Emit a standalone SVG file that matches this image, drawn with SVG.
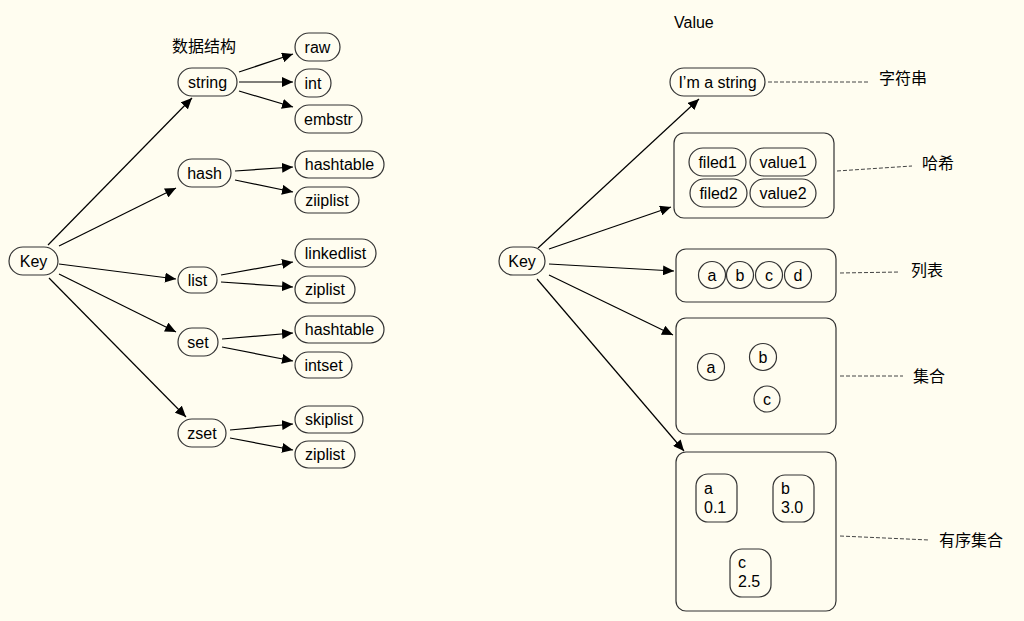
<svg xmlns="http://www.w3.org/2000/svg" width="1024" height="621" viewBox="0 0 1024 621">
<defs>
<marker id="arr" markerUnits="userSpaceOnUse" markerWidth="12" markerHeight="10" refX="11" refY="5" orient="auto">
<path d="M0,0 L11,5 L0,10 Z" fill="#000"/>
</marker>
<style>
.p{fill:#fffdf0;stroke:#333;stroke-width:1.2}
.t{font-family:"Liberation Sans",Arial,sans-serif;font-size:16px;fill:#000}
.tc{font-family:"Liberation Sans",Arial,sans-serif;font-size:16px;fill:#000;text-anchor:middle}
.cj{font-family:"Liberation Sans","Noto Sans CJK SC",sans-serif;font-size:16px;fill:#000}
.e{stroke:#000;stroke-width:1.2;fill:none;marker-end:url(#arr)}
.d{stroke:#444;stroke-width:1;stroke-dasharray:4,2;fill:none}
</style>
</defs>
<rect width="1024" height="621" fill="#fffdf0"/>

<g id="connectors">
<line class="e" x1="48" y1="245" x2="192" y2="98"/>
<line class="e" x1="59" y1="246" x2="176" y2="188"/>
<line class="e" x1="59" y1="264" x2="176" y2="279"/>
<line class="e" x1="59" y1="274" x2="176" y2="332"/>
<line class="e" x1="49" y1="278" x2="186" y2="417"/>
<line class="e" x1="239" y1="72" x2="293" y2="54"/>
<line class="e" x1="239" y1="82" x2="293" y2="82"/>
<line class="e" x1="239" y1="91" x2="293" y2="107"/>
<line class="e" x1="235" y1="171" x2="293" y2="167"/>
<line class="e" x1="235" y1="180" x2="293" y2="192"/>
<line class="e" x1="221" y1="275" x2="293" y2="262"/>
<line class="e" x1="221" y1="282" x2="293" y2="287"/>
<line class="e" x1="222" y1="339" x2="293" y2="333"/>
<line class="e" x1="222" y1="347" x2="293" y2="361"/>
<line class="e" x1="230" y1="430" x2="293" y2="424"/>
<line class="e" x1="230" y1="438" x2="293" y2="450"/>

<line class="e" x1="538" y1="248" x2="699" y2="99"/>
<line class="e" x1="549" y1="249" x2="671" y2="207"/>
<line class="e" x1="549" y1="264" x2="674" y2="271"/>
<line class="e" x1="549" y1="275" x2="673" y2="335"/>
<line class="e" x1="537" y1="279" x2="684" y2="451"/>

<line class="d" x1="768" y1="82" x2="869" y2="82"/>
<line class="d" x1="837" y1="171" x2="912" y2="166"/>
<line class="d" x1="840" y1="273" x2="900" y2="272"/>
<line class="d" x1="840" y1="376" x2="903" y2="376"/>
<line class="d" x1="840" y1="536" x2="929" y2="540"/>
</g>

<g id="title-left"><text class="cj" x="172" y="52">数据结构</text></g>
<g id="title-right"><text class="t" x="674" y="28">Value</text></g>

<g id="key-left"><rect class="p" x="9" y="247" width="49" height="28" rx="14"/><text class="tc" x="33.5" y="267">Key</text></g>
<g id="string"><rect class="p" x="178" y="68" width="59" height="28" rx="14"/><text class="tc" x="207.5" y="88">string</text></g>
<g id="raw"><rect class="p" x="295" y="33" width="45" height="28" rx="14"/><text class="tc" x="317.5" y="53">raw</text></g>
<g id="int"><rect class="p" x="295" y="69" width="36" height="28" rx="14"/><text class="tc" x="313" y="89">int</text></g>
<g id="embstr"><rect class="p" x="295" y="105" width="67" height="28" rx="14"/><text class="tc" x="328.5" y="125">embstr</text></g>
<g id="hash"><rect class="p" x="178" y="159" width="53" height="28" rx="14"/><text class="tc" x="204.5" y="179">hash</text></g>
<g id="hashtable1"><rect class="p" x="295" y="151" width="89" height="27" rx="13.5"/><text class="tc" x="339.5" y="170">hashtable</text></g>
<g id="ziiplist"><rect class="p" x="295" y="187" width="64" height="26" rx="13"/><text class="tc" x="327" y="206">ziiplist</text></g>
<g id="list"><rect class="p" x="178" y="267" width="39" height="26" rx="13"/><text class="tc" x="197.5" y="286">list</text></g>
<g id="linkedlist"><rect class="p" x="295" y="239" width="81" height="28" rx="14"/><text class="tc" x="335.5" y="259">linkedlist</text></g>
<g id="ziplist1"><rect class="p" x="295" y="276" width="60" height="27" rx="13.5"/><text class="tc" x="325" y="295">ziplist</text></g>
<g id="set"><rect class="p" x="178" y="328" width="40" height="28" rx="14"/><text class="tc" x="198" y="348">set</text></g>
<g id="hashtable2"><rect class="p" x="295" y="316" width="89" height="27" rx="13.5"/><text class="tc" x="339.5" y="335">hashtable</text></g>
<g id="intset"><rect class="p" x="295" y="352" width="57" height="26" rx="13"/><text class="tc" x="323.5" y="371">intset</text></g>
<g id="zset"><rect class="p" x="178" y="419" width="48" height="28" rx="14"/><text class="tc" x="202" y="439">zset</text></g>
<g id="skiplist"><rect class="p" x="295" y="406" width="68" height="27" rx="13.5"/><text class="tc" x="329" y="425">skiplist</text></g>
<g id="ziplist2"><rect class="p" x="295" y="441" width="60" height="27" rx="13.5"/><text class="tc" x="325" y="460">ziplist</text></g>

<g id="key-right"><rect class="p" x="499" y="247" width="46" height="28" rx="14"/><text class="tc" x="522" y="267">Key</text></g>
<g id="str-value"><rect class="p" x="670" y="68" width="95" height="28" rx="14"/><text class="tc" x="717.5" y="88">I’m a string</text></g>
<g id="hash-value">
<rect class="p" x="674" y="133" width="160" height="85" rx="10"/>
<rect class="p" x="689" y="148" width="57" height="28" rx="14"/><text class="tc" x="717.5" y="168">filed1</text>
<rect class="p" x="750" y="148" width="66" height="28" rx="14"/><text class="tc" x="783" y="168">value1</text>
<rect class="p" x="690" y="179" width="57" height="28" rx="14"/><text class="tc" x="718.5" y="199">filed2</text>
<rect class="p" x="750" y="179" width="66" height="28" rx="14"/><text class="tc" x="783" y="199">value2</text>
</g>
<g id="list-value">
<rect class="p" x="676" y="249" width="160" height="53" rx="10"/>
<circle class="p" cx="712" cy="275" r="13.5"/><text class="tc" x="712" y="280.5">a</text>
<circle class="p" cx="740" cy="275" r="13.5"/><text class="tc" x="740" y="280.5">b</text>
<circle class="p" cx="769" cy="275" r="13.5"/><text class="tc" x="769" y="280.5">c</text>
<circle class="p" cx="798" cy="275" r="13.5"/><text class="tc" x="798" y="280.5">d</text>
</g>
<g id="set-value">
<rect class="p" x="676" y="318" width="160" height="116" rx="10"/>
<circle class="p" cx="711" cy="367" r="13.5"/><text class="tc" x="711" y="372.5">a</text>
<circle class="p" cx="763" cy="357" r="13.5"/><text class="tc" x="763" y="362.5">b</text>
<circle class="p" cx="767" cy="399" r="13"/><text class="tc" x="767" y="404.5">c</text>
</g>
<g id="zset-value">
<rect class="p" x="676" y="452" width="160" height="159" rx="10"/>
<rect class="p" x="696" y="474" width="41" height="48" rx="12"/><text class="t" x="704" y="494">a</text><text class="t" x="704" y="513">0.1</text>
<rect class="p" x="773" y="475" width="41" height="47" rx="12"/><text class="t" x="781" y="494">b</text><text class="t" x="781" y="513">3.0</text>
<rect class="p" x="730" y="549" width="41" height="48" rx="12"/><text class="t" x="738" y="568">c</text><text class="t" x="738" y="587">2.5</text>
</g>

<g id="labels">
<text class="cj" x="879" y="84">字符串</text>
<text class="cj" x="922" y="169">哈希</text>
<text class="cj" x="911" y="276">列表</text>
<text class="cj" x="913" y="382">集合</text>
<text class="cj" x="939" y="546">有序集合</text>
</g>
</svg>
